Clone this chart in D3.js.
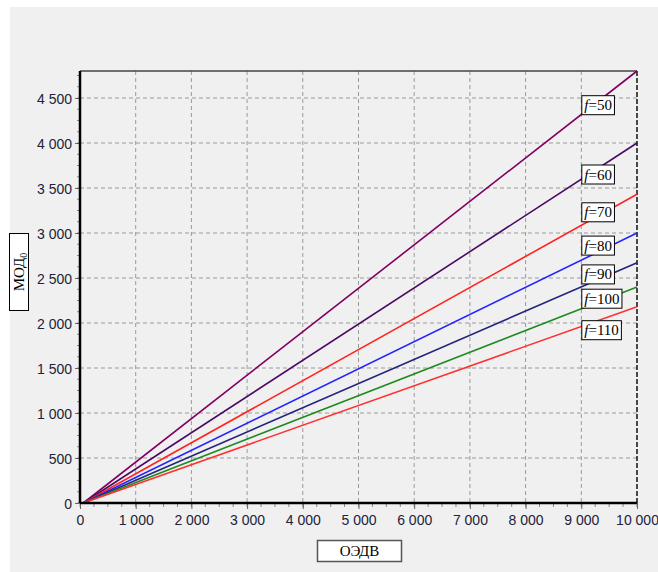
<!DOCTYPE html>
<html>
<head>
<meta charset="utf-8">
<script src="https://cdn.jsdelivr.net/npm/d3@7"></script>
<style>
  body { margin: 0; background: #fff; }
  svg { display: block; }
  .tick text { font-family: "Liberation Sans", Arial, sans-serif; font-size: 14px; fill: #22223a; }
  .box-label { font-family: "Liberation Serif", "Times New Roman", serif; }
</style>
</head>
<body>
<div id="chart"></div>
<script>
// Values
const fValues = [50, 60, 70, 80, 90, 100, 110];
const oedv = [60, 10000];
const mod50 = [0, 4800];
const mod60 = [0, 4000];
const mod70 = [0, 3430];
const mod80 = [0, 3000];
const mod90 = [0, 2670];
const mod100 = [0, 2400];
const mod110 = [0, 2180];
const lineColors = ["#800060", "#4a0a62", "#ff2424", "#2424ff", "#24247e", "#1f8a1f", "#ff3030"];
// label boxes: left edge at OEDV 9000, vertical centre in MOD units
const labelX = 9000;
const labelY = [4420, 3650, 3230, 2860, 2540, 2270, 1920];
const xTicks = [0, 1000, 2000, 3000, 4000, 5000, 6000, 7000, 8000, 9000, 10000];
const yTicks = [0, 500, 1000, 1500, 2000, 2500, 3000, 3500, 4000, 4500];

const series = [mod50, mod60, mod70, mod80, mod90, mod100, mod110];

const W = 658, H = 572;
const margin = {top: 71, right: 21, bottom: 69, left: 80},
      width = W - margin.left - margin.right,
      height = H - margin.top - margin.bottom;

const svg = d3.select("#chart").append("svg")
    .attr("width", W)
    .attr("height", H);

// grey window background
svg.append("rect")
    .attr("x", 10).attr("y", 7)
    .attr("width", W - 10).attr("height", H - 7)
    .attr("fill", "#f0f0f0");

const g = svg.append("g")
    .attr("transform", "translate(" + margin.left + "," + margin.top + ")");

const x = d3.scaleLinear().domain([0, 10000]).range([0, width]);
const y = d3.scaleLinear().domain([0, 4800]).range([height, 0]);

const fmt = d => d3.format(",")(d).replace(/,/g, " ");

// grid
g.append("g").selectAll("line")
    .data(yTicks.filter(d => d > 0))
    .enter().append("line")
      .attr("x1", 0).attr("x2", width)
      .attr("y1", d => y(d)).attr("y2", d => y(d))
      .attr("stroke", "#9a9a9a")
      .attr("stroke-dasharray", "4,3");

g.append("g").selectAll("line")
    .data(xTicks.filter(d => d > 0 && d < 10000))
    .enter().append("line")
      .attr("x1", d => x(d)).attr("x2", d => x(d))
      .attr("y1", 0).attr("y2", height)
      .attr("stroke", "#9a9a9a")
      .attr("stroke-dasharray", "4,3");

// minor ticks
g.append("g").selectAll("line")
    .data(d3.range(0, 10001, 250))
    .enter().append("line")
      .attr("x1", d => x(d)).attr("x2", d => x(d))
      .attr("y1", height).attr("y2", height + 4)
      .attr("stroke", "#888");

g.append("g").selectAll("line")
    .data(d3.range(0, 4801, 125))
    .enter().append("line")
      .attr("x1", -3).attr("x2", 0)
      .attr("y1", d => y(d)).attr("y2", d => y(d))
      .attr("stroke", "#888");

// axes
const xAxis = d3.axisBottom(x).tickValues(xTicks).tickFormat(fmt).tickSize(6).tickPadding(6);
const yAxis = d3.axisLeft(y).tickValues(yTicks).tickFormat(fmt).tickSize(5).tickPadding(3);

const gx = g.append("g")
    .attr("class", "x axis")
    .attr("transform", "translate(0," + height + ")")
    .call(xAxis);
gx.select(".domain").remove();
gx.selectAll(".tick line").attr("stroke", "#666");

const gy = g.append("g")
    .attr("class", "y axis")
    .call(yAxis);
gy.select(".domain").remove();
gy.selectAll(".tick line").attr("stroke", "#666");
gy.selectAll(".tick text").attr("dy", "0.36em");

// frame
g.append("line")
    .attr("x1", 0).attr("x2", width).attr("y1", 0).attr("y2", 0)
    .attr("stroke", "#444").attr("stroke-width", 1.5);
g.append("line")
    .attr("x1", width).attr("x2", width).attr("y1", 0).attr("y2", height)
    .attr("stroke", "#111").attr("stroke-width", 1.5)
    .attr("stroke-dasharray", "5,2");

// lines
const line = d3.line()
    .x(d => x(d[0]))
    .y(d => y(d[1]));

series.forEach(function(s, i) {
    g.append("path")
        .datum(oedv.map((v, j) => [v, s[j]]))
        .attr("fill", "none")
        .attr("stroke", lineColors[i])
        .attr("stroke-width", 1.6)
        .attr("d", line);
});

g.append("line")
    .attr("x1", 0).attr("x2", width).attr("y1", height).attr("y2", height)
    .attr("stroke", "#000").attr("stroke-width", 2.5);
g.append("line")
    .attr("x1", 0).attr("x2", 0).attr("y1", 0).attr("y2", height)
    .attr("stroke", "#000").attr("stroke-width", 2.5);

// line labels
fValues.forEach(function(f, i) {
    const lg = g.append("g")
        .attr("transform", "translate(" + x(labelX) + "," + y(labelY[i]) + ")");
    const rect = lg.append("rect").attr("fill", "#fff").attr("stroke", "#000").attr("stroke-width", 1);
    const t = lg.append("text")
        .attr("class", "box-label")
        .attr("x", 3).attr("y", 5)
        .attr("font-size", 15);
    t.append("tspan").attr("font-style", "italic").text("f");
    t.append("tspan").text("=" + f);
    const bb = t.node().getBBox();
    rect.attr("x", 0.5).attr("y", -9.5)
        .attr("width", bb.width + 5).attr("height", 19);
});

// axis titles
const xt = svg.append("g");
xt.append("rect")
    .attr("x", 317.5).attr("y", 540.5).attr("width", 84).attr("height", 21)
    .attr("fill", "#fff").attr("stroke", "#555").attr("stroke-width", 1.5);
xt.append("text")
    .attr("class", "box-label")
    .attr("x", 359.5).attr("y", 556)
    .attr("text-anchor", "middle")
    .attr("font-size", 15)
    .text("ОЭДВ");

const yt = svg.append("g");
yt.append("rect")
    .attr("x", 9.5).attr("y", 233.5).attr("width", 19).attr("height", 77)
    .attr("fill", "#fff").attr("stroke", "#000").attr("stroke-width", 1);
const ytext = yt.append("text")
    .attr("class", "box-label")
    .attr("transform", "translate(24,272) rotate(-90)")
    .attr("text-anchor", "middle")
    .attr("font-size", 15);
ytext.append("tspan").text("МОД");
ytext.append("tspan").attr("font-size", 10).attr("dy", 3).text("0");
</script>
</body>
</html>
